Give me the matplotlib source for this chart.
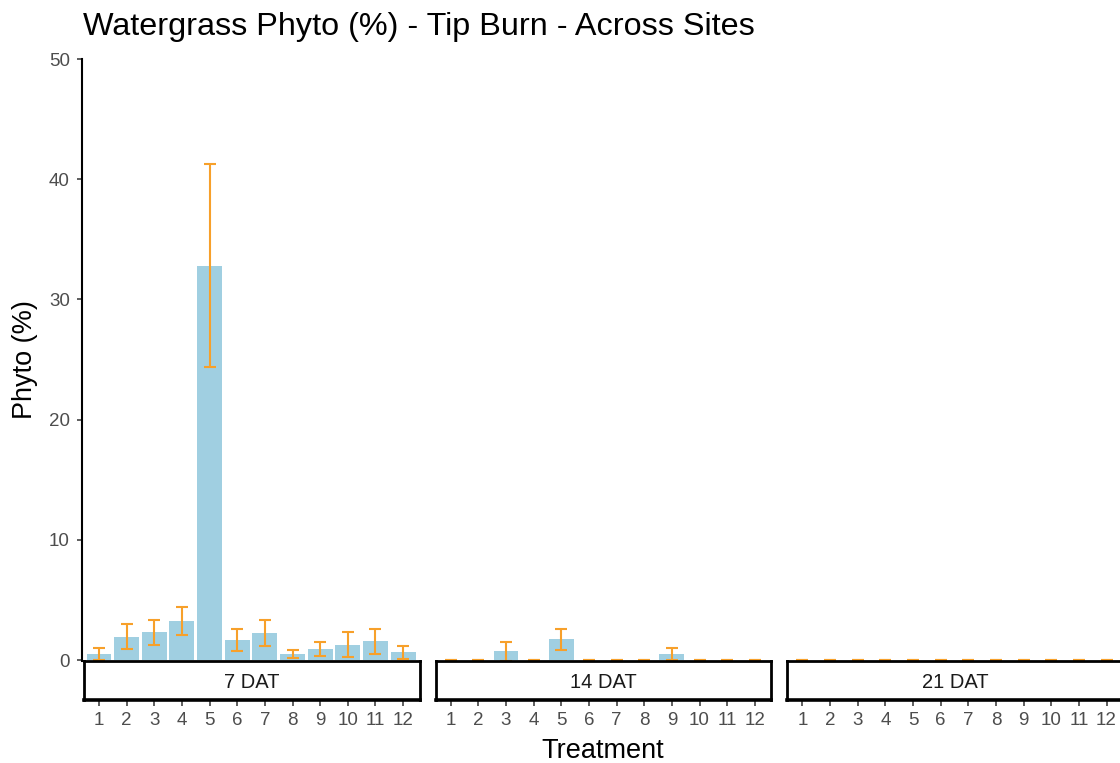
import matplotlib
matplotlib.use("Agg")
import matplotlib.pyplot as plt
import numpy as np

plt.rcParams['font.family'] = ['Liberation Sans', 'DejaVu Sans']

# ---- data ----
treatments = list(range(1, 13))
panels = ["7 DAT", "14 DAT", "21 DAT"]
mean_7 = [0.5, 1.95, 2.3, 3.25, 32.8, 1.65, 2.25, 0.5, 0.9, 1.27, 1.55, 0.64]
se_7 = [0.47, 1.05, 1.05, 1.17, 8.45, 0.9, 1.1, 0.35, 0.57, 1.03, 1.04, 0.53]
mean_14 = [0, 0, 0.72, 0, 1.72, 0, 0, 0, 0.5, 0, 0, 0]
se_14 = [0, 0, 0.78, 0, 0.85, 0, 0, 0, 0.5, 0, 0, 0]
mean_21 = [0] * 12
se_21 = [0] * 12
means = [mean_7, mean_14, mean_21]
ses = [se_7, se_14, se_21]
y_ticks = [0, 10, 20, 30, 40, 50]

title = "Watergrass Phyto (%) - Tip Burn - Across Sites"
xlabel = "Treatment"
ylabel = "Phyto (%)"

bar_color = "#a0cfe1"
err_color = "#f7a02a"

W, H = 1120, 763
fig = plt.figure(figsize=(W / 100, H / 100), dpi=100)

def fx(px):
    return px / W

def fy(py):
    return 1 - py / H

panel_left = [82.4, 434.1, 785.8]
panel_w = 337.3
p_top, p_bot = 59, 661
s_top, s_bot = 661, 700

for i, lab in enumerate(panels):
    l = panel_left[i]
    ax = fig.add_axes([fx(l), fy(p_bot), fx(panel_w), (p_bot - p_top) / H])
    ax.bar(treatments, means[i], width=0.9, color=bar_color, edgecolor='none', zorder=2)
    ax.errorbar(treatments, means[i], yerr=ses[i], fmt='none', ecolor=err_color,
                elinewidth=1.5, capsize=4.1, capthick=1.5, zorder=3)
    ax.set_xlim(0.4, 12.6)
    ax.set_ylim(-0.08, 50)
    ax.set_xticks([])
    for s in ['top', 'right', 'bottom']:
        ax.spines[s].set_visible(False)
    if i == 0:
        ax.spines['left'].set_linewidth(1.5)
        ax.spines['left'].set_color('black')
        ax.set_yticks(y_ticks)
        ax.set_yticklabels([str(v) for v in y_ticks])
        ax.tick_params(axis='y', length=3.6, width=1.1, color='#333333',
                       labelsize=13.5, labelcolor='#4d4d4d', pad=5.5)
    else:
        ax.spines['left'].set_visible(False)
        ax.set_yticks([])
    ax.patch.set_alpha(0)

    sax = fig.add_axes([fx(l + 1.5), fy(s_bot), fx(panel_w - 1.5), (s_bot - s_top) / H])
    sax.set_xlim(0.4 + 1.5 / 27.64, 12.6)
    sax.set_ylim(0, 1)
    for s in sax.spines.values():
        s.set_linewidth(2.0)
        s.set_color('black')
    sax.spines['bottom'].set_linewidth(2.6)
    sax.set_yticks([])
    sax.set_xticks(treatments)
    sax.set_xticklabels([str(t) for t in treatments])
    sax.tick_params(axis='x', length=4.5, width=1.1, color='#333333',
                    labelsize=13.5, labelcolor='#4d4d4d', pad=4)
    sax.text(0.5, 0.44, lab, transform=sax.transAxes, ha='center', va='center',
             fontsize=14.5, color='#1a1a1a')

fig.text(fx(83), fy(35), title, ha='left', va='baseline', fontsize=23.3, color='black')
fig.text(fx(603), fy(751), xlabel, ha='center', va='center', fontsize=19.5, color='black')
fig.text(fx(25), fy(360), ylabel, ha='center', va='center', rotation=90,
         fontsize=19.5, color='black')

fig.savefig("out.png", dpi=100)
